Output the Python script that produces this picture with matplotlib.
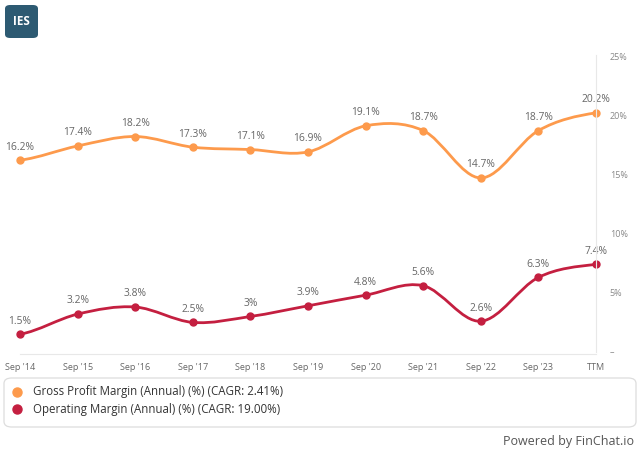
import matplotlib
matplotlib.use("Agg")
import matplotlib.pyplot as plt
import numpy as np
from matplotlib.patches import FancyBboxPatch
from matplotlib.path import Path
from matplotlib.patches import PathPatch

categories = ["Sep '14", "Sep '15", "Sep '16", "Sep '17", "Sep '18", "Sep '19",
              "Sep '20", "Sep '21", "Sep '22", "Sep '23", "TTM"]
gross_margin = [16.2, 17.4, 18.2, 17.3, 17.1, 16.9, 19.1, 18.7, 14.7, 18.7, 20.2]
gross_labels = ["16.2%", "17.4%", "18.2%", "17.3%", "17.1%", "16.9%", "19.1%", "18.7%", "14.7%", "18.7%", "20.2%"]
op_margin = [1.5, 3.2, 3.8, 2.5, 3.0, 3.9, 4.8, 5.6, 2.6, 6.3, 7.4]
op_labels = ["1.5%", "3.2%", "3.8%", "2.5%", "3%", "3.9%", "4.8%", "5.6%", "2.6%", "6.3%", "7.4%"]
ytick_vals = [0, 5, 10, 15, 20, 25]
ytick_labels = ["\u2013", "5%", "10%", "15%", "20%", "25%"]
legend_labels = ["Gross Profit Margin (Annual) (%) (CAGR: 2.41%)",
                 "Operating Margin (Annual) (%) (CAGR: 19.00%)"]

ORANGE = "#fd9a4c"
RED = "#c41f40"
FONT = ["Open Sans", "DejaVu Sans"]
plt.rcParams['font.family'] = FONT

W, H = 640, 453
fig = plt.figure(figsize=(W / 100, H / 100), dpi=100)

def fx(px):
    return px / W

def fy(py):
    return 1 - py / H

x0, x1 = 20, 596
y0, y1 = 352, 56
ax = fig.add_axes([fx(x0), fy(y0), fx(x1) - fx(x0), fy(y1) - fy(y0)])
ax.set_xlim(0, len(categories) - 1)
ax.set_ylim(0, 25)
for s in ax.spines.values():
    s.set_visible(False)


def spline_path(xs, ys):
    n = len(xs)
    t = np.zeros(n)
    for i in range(1, n - 1):
        t[i] = (ys[i + 1] - ys[i - 1]) / (xs[i + 1] - xs[i - 1])
    t[0] = (ys[1] - ys[0]) / (xs[1] - xs[0]) * 0.5
    t[-1] = (ys[-1] - ys[-2]) / (xs[-1] - xs[-2]) * 0.5
    verts = [(xs[0], ys[0])]
    codes = [Path.MOVETO]
    for i in range(1, n):
        d = (xs[i] - xs[i - 1]) / 3
        verts += [(xs[i - 1] + d, ys[i - 1] + t[i - 1] * d),
                  (xs[i] - d, ys[i] - t[i] * d),
                  (xs[i], ys[i])]
        codes += [Path.CURVE4] * 3
    return Path(verts, codes)


xs = np.arange(len(categories), dtype=float)
for vals, labels, col in [(gross_margin, gross_labels, ORANGE), (op_margin, op_labels, RED)]:
    p = spline_path(list(xs), list(vals))
    ax.add_patch(PathPatch(p, facecolor="none", edgecolor=col, lw=2.0, clip_on=False,
                           capstyle="round", joinstyle="round"))
    ax.plot(xs, vals, "o", color=col, ms=5, clip_on=False, zorder=5)
    for xv, yv, lab in zip(xs, vals, labels):
        ax.annotate(lab, (xv, yv), xytext=(0, 5.5), textcoords="offset points",
                    ha="center", va="bottom", fontsize=7.4, color="#666666")

ax.set_xticks(xs)
ax.set_xticklabels(categories, fontsize=6.5, color="#666666")
ax.tick_params(axis="x", length=0, pad=8)
ax.yaxis.tick_right()
ax.set_yticks(ytick_vals)
ax.set_yticklabels(ytick_labels, fontsize=6.5, color="#888888")
ax.tick_params(axis="y", length=0, pad=10)

# vertical line at right and baseline
fig.add_artist(plt.Line2D([fx(596), fx(596)], [fy(352), fy(55)], color="#e8e8e8", lw=0.8))
fig.add_artist(plt.Line2D([fx(20), fx(596)], [fy(353.5), fy(353.5)], color="#e8e8e8", lw=0.8))

# legend box
box = FancyBboxPatch((fx(4), fy(427)), fx(636) - fx(4), fy(378) - fy(427),
                     boxstyle="round,pad=0,rounding_size=0.012",
                     transform=fig.transFigure, facecolor="white", edgecolor="#dddddd", lw=0.9)
fig.add_artist(box)
for i, (lab, col) in enumerate(zip(legend_labels, [ORANGE, RED])):
    yy = 392 + i * 17
    fig.add_artist(plt.Line2D([fx(17)], [fy(yy)], marker="o", color=col, ms=6.5,
                              transform=fig.transFigure))
    fig.text(fx(33), fy(yy), lab, fontsize=8.3, color="#333333", va="center", ha="left")

fig.text(fx(634), fy(441), "Powered by FinChat.io", fontsize=9, color="#555555",
         ha="right", va="center")

# logo
logo = FancyBboxPatch((fx(5), fy(38)), fx(38) - fx(5), fy(5) - fy(38),
                      boxstyle="round,pad=0,rounding_size=0.008",
                      transform=fig.transFigure, facecolor="#2d5a72", edgecolor="none")
fig.add_artist(logo)
fig.text(fx(21.5), fy(21.5), "IES", fontsize=8.5, color="white", fontweight="bold",
         ha="center", va="center")

fig.savefig("out.png", dpi=100, facecolor="white")
